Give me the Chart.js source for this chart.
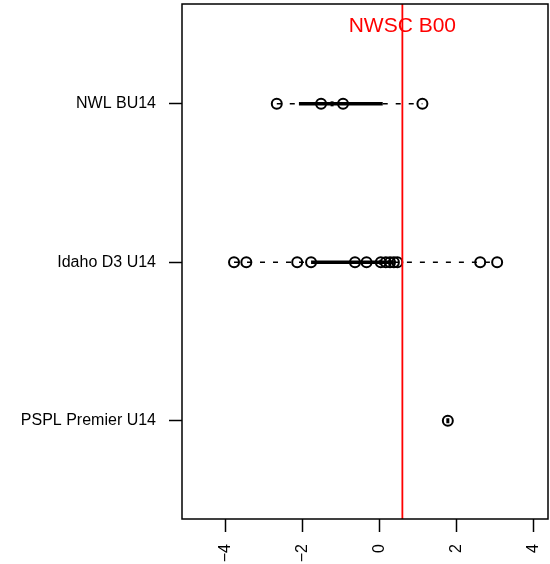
<!DOCTYPE html>
<html>
<head>
<meta charset="utf-8">
<script src="https://cdn.jsdelivr.net/npm/chart.js@4/dist/chart.umd.min.js"></script>
<style>
  html, body { margin: 0; padding: 0; background: #fff; }
  #wrap { width: 550px; height: 564px; }
</style>
</head>
<body>
<div id="wrap"><canvas id="chart"></canvas></div>
<script>
'use strict';

// groups, top to bottom
var groupNames = ['NWL BU14', 'Idaho D3 U14', 'PSPL Premier U14'];
var groupRows = [3, 2, 1];

// scores
var nwlScores = [-2.66, -1.51, -0.94, 1.12];
var idahoScores = [-3.77, -3.45, -2.13, -1.77, -0.63, -0.33, 0.04, 0.17, 0.28, 0.38, 0.47, 2.62, 3.06];
var psplScores = [1.78];
var groupScores = [nwlScores, idahoScores, psplScores];

var refLabel = 'NWSC B00';
var refValue = 0.6;

var xTicks = [-4, -2, 0, 2, 4];
var xRange = [-5.12, 4.38];
var yRange = [0.38, 3.63];

var font = 'Liberation Sans, Arial, sans-serif';

// Tukey five number summary, like R's fivenum
function fivenum(values) {
  var x = values.slice().sort(function(a, b) { return a - b; });
  var n = x.length;
  var n4 = Math.floor((n + 3) / 2) / 2;
  var d = [1, n4, (n + 1) / 2, n + 1 - n4, n];
  return d.map(function(p) {
    return 0.5 * (x[Math.floor(p) - 1] + x[Math.ceil(p) - 1]);
  });
}

var datasets = [];

groupScores.forEach(function(scores, i) {
  var row = groupRows[i];
  var f = fivenum(scores);
  // whiskers
  [[f[0], f[1]], [f[3], f[4]]].forEach(function(seg) {
    datasets.push({
      type: 'scatter',
      showLine: true,
      data: [{ x: seg[0], y: row }, { x: seg[1], y: row }],
      borderColor: '#000',
      borderWidth: 1.5,
      borderDash: [5, 8],
      pointRadius: 0,
      order: 5
    });
  });
  // box
  datasets.push({
    type: 'scatter',
    showLine: true,
    data: [{ x: f[1], y: row }, { x: f[3], y: row }],
    borderColor: '#000',
    borderWidth: 3.5,
    pointRadius: 0,
    order: 4
  });
  // median
  datasets.push({
    type: 'scatter',
    data: [{ x: f[2], y: row }],
    pointStyle: 'line',
    rotation: 90,
    pointRadius: 2.5,
    borderColor: '#000',
    borderWidth: 3,
    order: 3
  });
  // the points themselves
  datasets.push({
    type: 'scatter',
    data: scores.map(function(v) { return { x: v, y: row }; }),
    pointStyle: 'circle',
    pointRadius: 5,
    pointBorderWidth: 2,
    pointBorderColor: '#000',
    pointBackgroundColor: 'rgba(0,0,0,0)',
    order: 2
  });
});

// reference line
datasets.push({
  type: 'scatter',
  showLine: true,
  data: [{ x: refValue, y: yRange[0] }, { x: refValue, y: yRange[1] }],
  borderColor: '#ff0000',
  borderWidth: 1.8,
  pointRadius: 0,
  order: 1
});

var framePlugin = {
  id: 'frame',
  afterDraw: function(chart) {
    var ctx = chart.ctx;
    var a = chart.chartArea;
    var xs = chart.scales.x;
    ctx.save();
    ctx.strokeStyle = '#000';
    ctx.lineWidth = 1.5;
    ctx.strokeRect(a.left, a.top, a.right - a.left, a.bottom - a.top);
    ctx.fillStyle = '#ff0000';
    ctx.font = '21px ' + font;
    ctx.textAlign = 'center';
    ctx.textBaseline = 'alphabetic';
    ctx.fillText(refLabel, xs.getPixelForValue(refValue), a.top + 28);
    ctx.restore();
  }
};

function noPad(scale) {
  scale.paddingTop = 0;
  scale.paddingBottom = 0;
  scale.paddingLeft = 0;
  scale.paddingRight = 0;
}

var chart = new Chart(document.getElementById('chart').getContext('2d'), {
  type: 'scatter',
  data: { datasets: datasets },
  options: {
    responsive: true,
    maintainAspectRatio: false,
    devicePixelRatio: 1,
    animation: false,
    layout: { autoPadding: false, padding: { top: 4, right: 2, left: 0, bottom: 0 } },
    plugins: {
      legend: { display: false },
      tooltip: { enabled: false }
    },
    scales: {
      x: {
        type: 'linear',
        min: xRange[0],
        max: xRange[1],
        afterBuildTicks: function(scale) {
          scale.ticks = xTicks.map(function(v) { return { value: v }; });
        },
        afterFit: function(scale) { scale.height = 45; noPad(scale); },
        border: { display: false },
        grid: {
          drawOnChartArea: false,
          drawTicks: true,
          tickLength: 13,
          tickColor: '#000',
          tickWidth: 1.5
        },
        ticks: {
          minRotation: 90,
          maxRotation: 90,
          padding: 12,
          color: '#000',
          font: { family: font, size: 16 },
          callback: function(v) { return String(v).replace('-', '\u2212'); }
        }
      },
      y: {
        type: 'linear',
        min: yRange[0],
        max: yRange[1],
        afterBuildTicks: function(scale) {
          scale.ticks = groupRows.map(function(v) { return { value: v }; });
        },
        afterFit: function(scale) { scale.width = 182; noPad(scale); },
        border: { display: false },
        grid: {
          drawOnChartArea: false,
          drawTicks: true,
          tickLength: 13,
          tickColor: '#000',
          tickWidth: 1.5
        },
        ticks: {
          padding: 13,
          color: '#000',
          font: { family: font, size: 16 },
          callback: function(v) {
            var i = groupRows.indexOf(v);
            return i >= 0 ? groupNames[i] : '';
          }
        }
      }
    }
  },
  plugins: [framePlugin]
});
</script>
</body>
</html>
